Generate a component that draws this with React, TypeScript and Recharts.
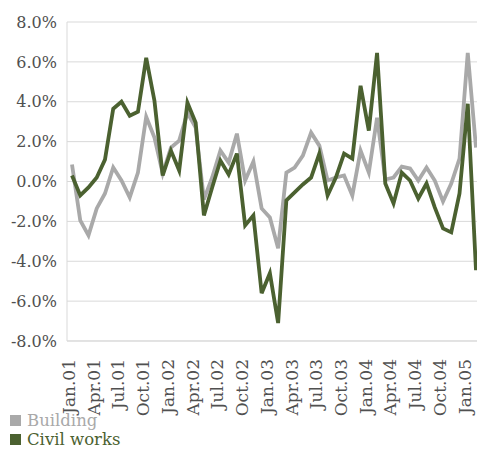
import { LineChart, Line, XAxis, YAxis, CartesianGrid, Legend } from "recharts";

const months = [
  "Jan.01", "Feb.01", "Mar.01", "Apr.01", "May.01", "Jun.01", "Jul.01", "Aug.01", "Sep.01", "Oct.01", "Nov.01", "Dec.01",
  "Jan.02", "Feb.02", "Mar.02", "Apr.02", "May.02", "Jun.02", "Jul.02", "Aug.02", "Sep.02", "Oct.02", "Nov.02", "Dec.02",
  "Jan.03", "Feb.03", "Mar.03", "Apr.03", "May.03", "Jun.03", "Jul.03", "Aug.03", "Sep.03", "Oct.03", "Nov.03", "Dec.03",
  "Jan.04", "Feb.04", "Mar.04", "Apr.04", "May.04", "Jun.04", "Jul.04", "Aug.04", "Sep.04", "Oct.04", "Nov.04", "Dec.04",
  "Jan.05", "Feb.05",
];

const building = [
  0.85, -1.95, -2.7, -1.35, -0.6, 0.7, 0.05, -0.8, 0.45, 3.25, 2.2, 0.4,
  1.7, 2.05, 3.45, 2.7, -0.9, 0.2, 1.55, 0.95, 2.4, 0.05, 1.0, -1.35,
  -1.8, -3.35, 0.45, 0.7, 1.3, 2.45, 1.8, 0.05, 0.2, 0.3, -0.7, 1.55,
  0.45, 3.2, 0.1, 0.2, 0.75, 0.65, 0.05, 0.7, 0.05, -1.0, -0.1, 1.15,
  6.45, 1.7,
];

const civilWorks = [
  0.3, -0.7, -0.3, 0.2, 1.1, 3.65, 4.0, 3.3, 3.5, 6.2, 4.05, 0.3,
  1.55, 0.55, 3.95, 2.95, -1.7, -0.3, 1.05, 0.35, 1.4, -2.2, -1.7, -5.6,
  -4.6, -7.1, -0.95, -0.55, -0.15, 0.2, 1.4, -0.7, 0.2, 1.4, 1.15, 4.8,
  2.55, 6.45, -0.1, -1.1, 0.45, 0.05, -0.85, -0.1, -1.3, -2.35, -2.55, -0.6,
  3.9, -4.45,
];

const yTicks = [-8, -6, -4, -2, 0, 2, 4, 6, 8];

const GRAY = "#a9a9a9";
const GREEN = "#4b6130";
const FONT = "'DejaVu Serif', serif";

const data = months.map((m, i) => ({ month: m, building: building[i], civil: civilWorks[i] }));

const XTick = (props: any) => {
  const { x, y, payload } = props;
  return (
    <text
      x={x - 3}
      y={y + 10}
      transform={`rotate(-90, ${x - 3}, ${y + 10})`}
      textAnchor="end"
      dy="0.35em"
      fontFamily={FONT}
      fontSize={17}
      fill="#505050"
    >
      {payload.value}
    </text>
  );
};

const LegendBox = () => (
  <div style={{ fontFamily: FONT, fontSize: 16.5, lineHeight: "19px", paddingLeft: 10 }}>
    <div style={{ display: "flex", alignItems: "center", height: 19, color: GRAY }}>
      <span style={{ width: 11, height: 11, background: GRAY, marginRight: 6, display: "inline-block" }} />
      Building
    </div>
    <div style={{ display: "flex", alignItems: "center", height: 19, color: GREEN }}>
      <span style={{ width: 11, height: 11, background: GREEN, marginRight: 6, display: "inline-block" }} />
      Civil works
    </div>
  </div>
);

export default function App() {
  return (
    <div style={{ position: "absolute", left: 0, top: 0 }}>
      <LineChart width={477} height={449} data={data} margin={{ top: 22, right: 0, bottom: 0, left: 0 }}>
        <CartesianGrid vertical={false} stroke="#d9d9d9" />
        <XAxis
          dataKey="month"
          interval={2}
          tick={<XTick />}
          tickLine={false}
          axisLine={{ stroke: "#d9d9d9" }}
          height={70}
          padding={{ left: 5, right: 1 }}
        />
        <YAxis
          domain={[-8, 8]}
          ticks={yTicks}
          tickFormatter={(v: number) => v.toFixed(1) + "%"}
          width={67}
          tickSize={0}
          tickMargin={10}
          axisLine={{ stroke: "#d9d9d9" }}
          tick={{ fontFamily: FONT, fontSize: 16, fill: "#505050" }}
        />
        <Legend verticalAlign="bottom" align="left" layout="horizontal" content={<LegendBox />} />
        <Line dataKey="building" stroke={GRAY} strokeWidth={3.8} dot={false} isAnimationActive={false} />
        <Line dataKey="civil" stroke={GREEN} strokeWidth={3.8} dot={false} isAnimationActive={false} />
      </LineChart>
    </div>
  );
}
